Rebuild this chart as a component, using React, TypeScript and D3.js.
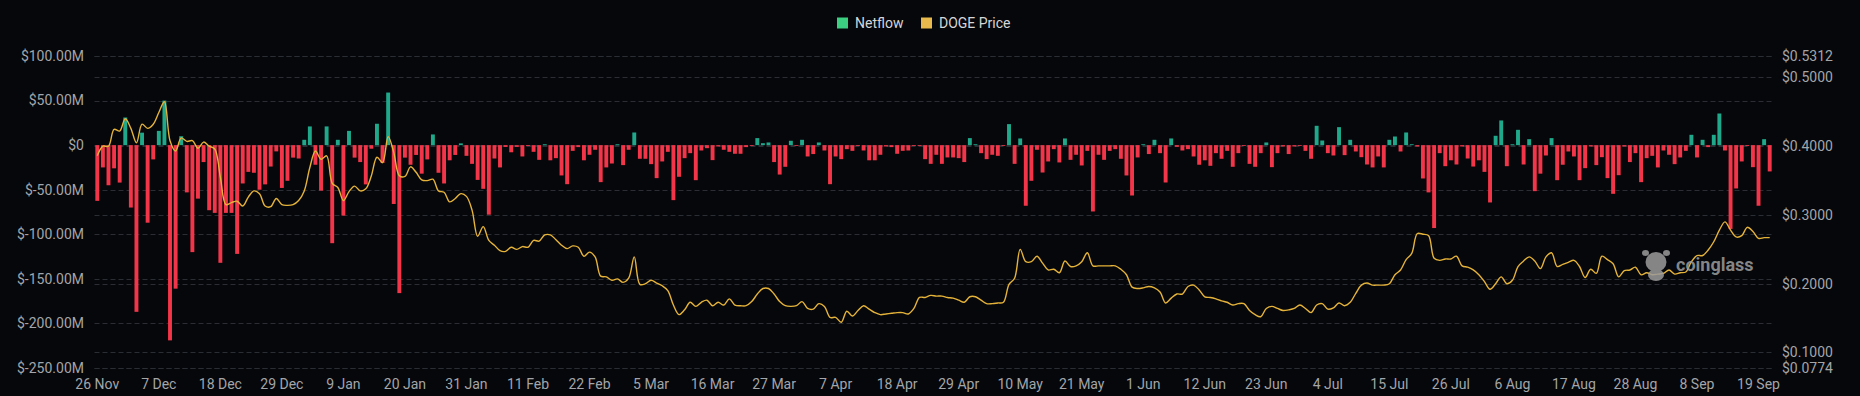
import React, { useEffect, useRef } from 'react';
import * as d3 from 'd3';

// daily netflow, $M, starting 26 Nov
const netflow = [
  -62.5, -25, -45, -26, -42, 31, -70, -187, 14, -87,
  -16, 16, 50, -219, -161, 10, -53, -120, -60, -19,
  -73, -76, -132, -76, -76, -122, -43, -30, -31, -50,
  -44, -24, -7, -48, -40, -14, -15, 6, 21, -22,
  -51, 21, -110, 6, -79, 16, -14, -19, -44, -4,
  24, -20, 59, -66, -166, -14, -22, -11, -32, -16,
  12, -31, -43, -17, -11, 2, -12, -21, -39, -49,
  -78, -15, -25, -2, -8, -2, -12.7, -1, -7.5, -16.5,
  1, -17, -14.6, -34, -43.8, -6.4, -2.2, -17, -10.8, -5.2,
  -41.5, -25, -20.6, 1, -22.4, -5.2, 14.2, -15.3, -15.3, -21.3,
  -37, -18.3, -7.5, -61.7, -35.5, -14.6, -9, -39.3, -6, -3.4,
  -16.8, -1.5, -5.2, -7.5, -9.7, -9.7, -2.2, -0.7, 7.9, 2.2,
  3, -19, -33, -24.3, 4.9, -0.7, 6, -12.7, -10, 3,
  -6, -43.8, -12.7, -15.7, -4.5, -6.4, -0.7, -6, -17, -17,
  -10.8, -1.5, -2.2, -9.7, -6.4, -6, -0.5, -0.5, -15.7, -21,
  -10.8, -21, -13.8, -13.8, -14.6, -19, 7.9, 1, -9, -15.7,
  -10.8, -12, -0.7, 23.6, -21, 7.5, -68, -40, -5.2, -30.7,
  -18.3, -4.5, -19.4, 7.5, -16.5, -10.8, -22.8, -6.4, -74.4, -10.8,
  -16.5, -6.4, -4.5, -15.3, -34, -56.5, -13.8, 1, -10, 6,
  -9, -41.9, 7.5, -1.9, -6, -4.5, -12.7, -22, -17, -23.2,
  -9, -15.3, -6.4, -24.3, -9, -0.7, -21, -24.3, -9, 3,
  -24.7, -9, -1.5, -10, -1.5, -0.7, -6.4, -15.3, 21.7, 5.2,
  -9, -11.6, 20.2, -11.2, 6, -7.1, -13.5, -21.7, -25, -12.7,
  -25, 6, 9.7, -7.1, 14.2, 1, -1.5, -37.4, -53, -93,
  -9, -23.6, -17, -21.7, -1.5, -15, -24, -17, -30, -64.3,
  10.5, 27.7, -23.6, 1, 17.2, -21.7, 6.7, -51.6, -32, -11.6,
  7.9, -39.3, -22, -7.1, -12.7, -39.3, -25.8, -1.5, -22.4, -13.5,
  -37, -54.6, -33.7, -1.5, -19, -9, -41.5, -14.6, -12, -25,
  -6, -10.8, -21.3, -13.8, -6.4, 11.6, -13.8, 6, -2.2, 11.6,
  35.5, -6, -94, -48.6, -18.3, -1, -24.7, -68, 6.7, -29.5,
];

// DOGE price, $
const dogePrice = [
  0.386, 0.4, 0.4, 0.4246, 0.422, 0.44, 0.426, 0.405, 0.432, 0.426,
  0.432, 0.449, 0.4646, 0.408, 0.393, 0.412, 0.407, 0.408, 0.397, 0.406,
  0.4, 0.396, 0.355, 0.315, 0.318, 0.32, 0.313, 0.326, 0.335, 0.331,
  0.313, 0.312, 0.324, 0.315, 0.314, 0.315, 0.321, 0.335, 0.369, 0.393,
  0.381, 0.386, 0.346, 0.34, 0.321, 0.334, 0.342, 0.335, 0.338, 0.357,
  0.384, 0.376, 0.414, 0.391, 0.357, 0.356, 0.37, 0.362, 0.351, 0.35,
  0.352, 0.335, 0.333, 0.319, 0.324, 0.331, 0.327, 0.307, 0.269, 0.283,
  0.263, 0.256, 0.248, 0.247, 0.253, 0.25, 0.254, 0.253, 0.263, 0.262,
  0.271, 0.271, 0.264, 0.256, 0.251, 0.255, 0.253, 0.24, 0.246, 0.239,
  0.211, 0.21, 0.205, 0.207, 0.202, 0.208, 0.239, 0.199, 0.2, 0.205,
  0.201, 0.197, 0.19, 0.169, 0.155, 0.162, 0.173, 0.167, 0.173, 0.176,
  0.168, 0.173, 0.169, 0.178, 0.169, 0.168, 0.168, 0.174, 0.185, 0.193,
  0.193, 0.185, 0.174, 0.168, 0.167, 0.168, 0.174, 0.164, 0.163, 0.171,
  0.167, 0.151, 0.151, 0.144, 0.16, 0.153, 0.161, 0.168, 0.163, 0.158,
  0.155, 0.156, 0.157, 0.158, 0.158, 0.156, 0.164, 0.18, 0.18, 0.183,
  0.182, 0.182, 0.18, 0.179, 0.176, 0.173, 0.181, 0.181, 0.176, 0.171,
  0.171, 0.172, 0.173, 0.199, 0.208, 0.25, 0.232, 0.232, 0.24, 0.23,
  0.22, 0.221, 0.216, 0.233, 0.225, 0.226, 0.232, 0.245, 0.226, 0.226,
  0.226, 0.226, 0.226, 0.221, 0.213, 0.195, 0.193, 0.194, 0.196, 0.194,
  0.188, 0.172, 0.179, 0.185, 0.185, 0.196, 0.198, 0.191, 0.181, 0.18,
  0.178, 0.175, 0.173, 0.169, 0.171, 0.171, 0.161, 0.155, 0.152, 0.164,
  0.167, 0.164, 0.161, 0.162, 0.164, 0.169, 0.164, 0.158, 0.169, 0.171,
  0.163, 0.165, 0.172, 0.168, 0.173, 0.186, 0.198, 0.201, 0.198, 0.198,
  0.198, 0.2, 0.213, 0.22, 0.235, 0.244, 0.273, 0.272, 0.27, 0.237,
  0.234, 0.236, 0.236, 0.24, 0.226, 0.224, 0.22, 0.213, 0.203, 0.192,
  0.2, 0.21, 0.2, 0.205, 0.225, 0.233, 0.239, 0.233, 0.222, 0.239,
  0.245, 0.225, 0.228, 0.231, 0.234, 0.225, 0.209, 0.221, 0.215, 0.24,
  0.235, 0.229, 0.21, 0.219, 0.22, 0.224, 0.213, 0.216, 0.213, 0.214,
  0.215, 0.22, 0.214, 0.216, 0.217, 0.232, 0.241, 0.241, 0.249, 0.261,
  0.278, 0.29, 0.278, 0.268, 0.27, 0.282, 0.276, 0.266, 0.267, 0.267,
];

const xTickLabels = [
  '26 Nov', '7 Dec', '18 Dec', '29 Dec', '9 Jan', '20 Jan', '31 Jan', '11 Feb', '22 Feb',
  '5 Mar', '16 Mar', '27 Mar', '7 Apr', '18 Apr', '29 Apr', '10 May', '21 May', '1 Jun',
  '12 Jun', '23 Jun', '4 Jul', '15 Jul', '26 Jul', '6 Aug', '17 Aug', '28 Aug', '8 Sep', '19 Sep',
];
const leftTicks = [100, 50, 0, -50, -100, -150, -200, -250];
const rightTicks = [0.5312, 0.5, 0.4, 0.3, 0.2, 0.1, 0.0774];

const App = () => {
  const svgRef = useRef(null);

  useEffect(() => {
    const W = 1860, H = 396;
    const left = 94.5, right = 1772.5, top = 56, bottom = 368;
    const svg = d3.select(svgRef.current);
    svg.selectAll('*').remove();
    svg.attr('width', W).attr('height', H);

    svg.append('rect').attr('width', W).attr('height', H).attr('fill', '#05070b');

    const days = netflow.map((_, i) => i);
    const x = d3.scaleBand().domain(days).range([left, right]).paddingInner(0.3).paddingOuter(0.15);
    const yL = d3.scaleLinear().domain([-250, 100]).range([bottom, top]);
    const yR = d3.scaleLinear().domain([0.0774, 0.5312]).range([bottom, top]);
    const cx = i => x(i) + x.bandwidth() / 2;

    const font = 'Roboto, "Noto Sans", sans-serif';

    // grid lines, both axes
    const grid = svg.append('g');
    const gridYs = leftTicks.map(yL).concat(rightTicks.map(yR));
    grid.selectAll('line').data(gridYs).enter().append('line')
      .attr('x1', left).attr('x2', right)
      .attr('y1', d => Math.round(d) + 0.5).attr('y2', d => Math.round(d) + 0.5)
      .attr('stroke', '#2a2d33').attr('stroke-dasharray', '5,3');

    // left axis labels
    svg.append('g').selectAll('text').data(leftTicks).enter().append('text')
      .attr('x', 84).attr('y', d => yL(d)).attr('dy', '0.35em')
      .attr('text-anchor', 'end').attr('fill', '#a3a5a8')
      .attr('font-family', font).attr('font-size', 14)
      .text(d => d === 0 ? '$0' : `$${d.toFixed(2)}M`);

    // right axis labels
    svg.append('g').selectAll('text').data(rightTicks).enter().append('text')
      .attr('x', 1782).attr('y', d => yR(d)).attr('dy', '0.35em')
      .attr('text-anchor', 'start').attr('fill', '#a3a5a8')
      .attr('font-family', font).attr('font-size', 14)
      .text(d => `$${d.toFixed(4)}`);

    // x labels every 11 days
    svg.append('g').selectAll('text').data(xTickLabels).enter().append('text')
      .attr('x', (d, k) => cx(k * 11)).attr('y', 384).attr('dy', '0.35em')
      .attr('text-anchor', 'middle').attr('fill', '#a3a5a8')
      .attr('font-family', font).attr('font-size', 14)
      .text(d => d);

    // bars
    svg.append('g').selectAll('rect').data(netflow).enter().append('rect')
      .attr('x', (d, i) => x(i))
      .attr('width', x.bandwidth())
      .attr('y', d => yL(Math.max(0, d)))
      .attr('height', d => Math.max(0.8, Math.abs(yL(d) - yL(0))))
      .attr('fill', d => d >= 0 ? '#1fa88a' : '#f23548');

    // price line
    const line = d3.line()
      .x((d, i) => cx(i))
      .y(d => yR(d))
      .curve(d3.curveCatmullRom.alpha(0.5));
    svg.append('path').datum(dogePrice)
      .attr('d', line).attr('fill', 'none')
      .attr('stroke', '#e6b33a').attr('stroke-width', 1.4);

    // legend
    const lg = svg.append('g').attr('font-family', font).attr('font-size', 14).attr('fill', '#d6d6d6');
    lg.append('rect').attr('x', 837).attr('y', 17.5).attr('width', 11).attr('height', 11).attr('fill', '#3ccf82');
    lg.append('text').attr('x', 855).attr('y', 23).attr('dy', '0.35em').text('Netflow');
    lg.append('rect').attr('x', 921).attr('y', 17.5).attr('width', 11).attr('height', 11).attr('fill', '#e8b94c');
    lg.append('text').attr('x', 939).attr('y', 23).attr('dy', '0.35em').text('DOGE Price');

    // watermark
    const wm = svg.append('g').attr('opacity', 0.85);
    wm.append('ellipse').attr('cx', 1656).attr('cy', 262).attr('rx', 10.5).attr('ry', 10).attr('fill', '#9c9c9c');
    wm.append('ellipse').attr('cx', 1656).attr('cy', 275).attr('rx', 8).attr('ry', 6).attr('fill', '#9c9c9c');
    wm.append('ellipse').attr('cx', 1645.5).attr('cy', 253).attr('rx', 3.5).attr('ry', 3).attr('fill', '#9c9c9c');
    wm.append('ellipse').attr('cx', 1666.5).attr('cy', 253).attr('rx', 3.5).attr('ry', 3).attr('fill', '#9c9c9c');
    wm.append('text').attr('x', 1676).attr('y', 271)
      .attr('font-family', font).attr('font-size', 18).attr('font-weight', 700)
      .attr('fill', '#9c9c9c').text('coinglass');
  }, []);

  return (
    <svg ref={svgRef} style={{ position: 'absolute', left: 0, top: 0, display: 'block' }}></svg>
  );
};

export default App;
